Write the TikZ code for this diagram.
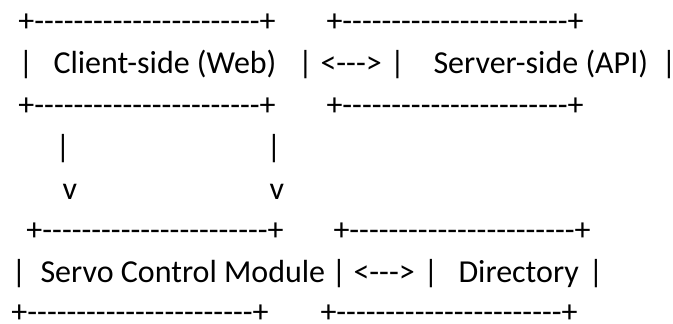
\documentclass[tikz,border=0pt]{standalone}
\usepackage{fontspec}
\setmainfont{Carlito}
\newcommand{\dashrow}{+-{}-{}-{}-{}-{}-{}-{}-{}-{}-{}-{}-{}-{}-{}-{}-{}-{}-{}-{}-{}-{}-{}-{}+}
\begin{document}
\begin{tikzpicture}[x=1pt,y=-1pt,
  txt/.style={inner sep=0pt,outer sep=0pt,anchor=base west,font=\fontsize{32}{32}\selectfont},
  bar/.style={inner sep=0pt,outer sep=0pt,anchor=base,font=\fontsize{32}{32}\selectfont}]
\useasboundingbox[fill=white] (0,0) rectangle (673,324);
% line 1
\node[txt] (t1a) at (18.5,31.5) {\dashrow};
\node[txt] (t1b) at (326.5,31.5) {\dashrow};
% line 2
\node[bar] (p2a) at (26,73.5) {|};
\node[txt] (c2) at (53.5,73.5) {Client-side (Web)};
\node[bar] (p2b) at (305.5,73.5) {|};
\node[txt] (a2) at (320.5,73.5) {<-{}-{}->};
\node[bar] (p2c) at (397.5,73.5) {|};
\node[txt] (s2) at (433.5,73.5) {Server-side (API)};
\node[bar] (p2d) at (669,73.5) {|};
% line 3
\node[txt] (t3a) at (18.5,115.3) {\dashrow};
\node[txt] (t3b) at (326.5,115.3) {\dashrow};
% line 4
\node[bar] (p4a) at (63,157) {|};
\node[bar] (p4b) at (274,157) {|};
% line 5
\node[txt] (v5a) at (62.5,199) {v};
\node[txt] (v5b) at (269.5,199) {v};
% line 6
\node[txt] (t6a) at (26.5,240.7) {\dashrow};
\node[txt] (t6b) at (333.5,240.7) {\dashrow};
% line 7
\node[bar] (p7a) at (19,282.5) {|};
\node[txt] (m7) at (40.5,282.5) {Servo Control Module};
\node[bar] (p7b) at (339,282.5) {|};
\node[txt] (a7) at (353.5,282.5) {<-{}-{}->};
\node[bar] (p7c) at (431,282.5) {|};
\node[txt] (d7) at (458.5,282.5) {Directory};
\node[bar] (p7d) at (596,282.5) {|};
% line 8
\node[txt] (t8a) at (11.5,322.5) {\dashrow};
\node[txt] (t8b) at (320.5,322.5) {\dashrow};
\end{tikzpicture}
\end{document}
